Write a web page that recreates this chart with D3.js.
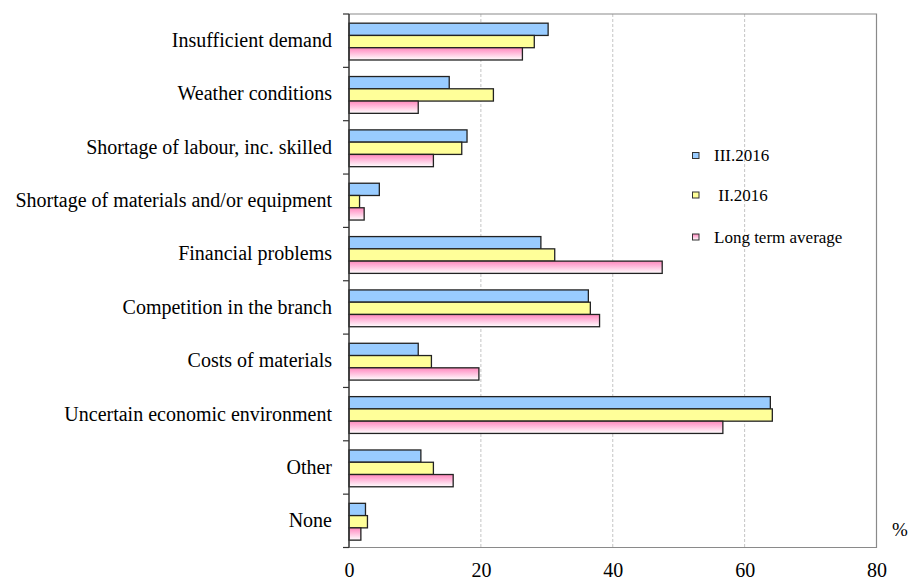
<!DOCTYPE html>
<html>
<head>
<meta charset="utf-8">
<script src="https://cdn.jsdelivr.net/npm/d3@7"></script>
<style>
  html, body { margin: 0; padding: 0; background: #fff; }
  svg { display: block; }
  svg text { font-family: 'Liberation Serif', 'Times New Roman', Times, 'DejaVu Serif', serif !important; fill: #000; }
</style>
</head>
<body>
<svg id="chart" width="910" height="581"></svg>
<script>
// Business barriers, share of answers (%)
const categories = [
  "Insufficient demand",
  "Weather conditions",
  "Shortage of labour, inc. skilled",
  "Shortage of materials and/or equipment",
  "Financial problems",
  "Competition in the branch",
  "Costs of materials",
  "Uncertain economic environment",
  "Other",
  "None"
];
const seriesNames = ["III.2016", " II.2016", "Long term average"];
const valuesIII2016 = [30.2, 15.2, 17.9, 4.6, 29.1, 36.3, 10.5, 63.9, 10.9, 2.5];
const valuesII2016  = [28.1, 21.9, 17.1, 1.6, 31.2, 36.6, 12.5, 64.2, 12.8, 2.8];
const valuesLongAvg = [26.3, 10.5, 12.8, 2.3, 47.5, 38.0, 19.7, 56.7, 15.8, 1.8];
const xTicks = [0, 20, 40, 60, 80];

const seriesValues = [valuesIII2016, valuesII2016, valuesLongAvg];
const seriesFill = ["#99ccff", "#ffff99", "url(#pinkFade)"];

const serif = "'Liberation Serif', 'Times New Roman', Times, serif";
const svg = d3.select("#chart").attr("font-family", serif);
const plot = { left: 349, right: 876.5, top: 14, bottom: 547.5 };

// vertical fade used by the long-term average bars
const defs = svg.append("defs");
const g = defs.append("linearGradient").attr("id", "pinkFade")
  .attr("x1", 0).attr("y1", 0).attr("x2", 0).attr("y2", 1);
g.append("stop").attr("offset", "0%").attr("stop-color", "#ff88bb");
g.append("stop").attr("offset", "30%").attr("stop-color", "#ffaad2");
g.append("stop").attr("offset", "100%").attr("stop-color", "#ffffff");

const x = d3.scaleLinear().domain([0, 80]).range([plot.left, plot.right]);
const y0 = d3.scaleBand().domain(categories).range([plot.top, plot.bottom]).padding(0);
const bw = y0.bandwidth();
const y1 = d3.scaleBand().domain(d3.range(seriesNames.length))
  .range([0.172 * bw, 0.862 * bw]).padding(0);

// dashed vertical gridlines
svg.append("g").selectAll("line")
  .data(xTicks.filter(t => t > 0 && t < 80))
  .join("line")
  .attr("x1", d => x(d)).attr("x2", d => x(d))
  .attr("y1", plot.top).attr("y2", plot.bottom)
  .attr("stroke", "#c4c4c4").attr("stroke-width", 1)
  .attr("stroke-dasharray", "3,2");

// plot frame (top, right, bottom)
svg.append("path")
  .attr("d", `M${plot.left},${plot.top}H${plot.right}V${plot.bottom}H${plot.left}`)
  .attr("fill", "none").attr("stroke", "#8a8a8a").attr("stroke-width", 1.2);

// bars
const groups = svg.append("g").selectAll("g")
  .data(categories)
  .join("g")
  .attr("transform", d => `translate(0,${y0(d)})`);

groups.selectAll("rect")
  .data((d, i) => seriesValues.map((vals, s) => ({ s, v: vals[i] })))
  .join("rect")
  .attr("x", x(0))
  .attr("y", d => y1(d.s))
  .attr("width", d => x(d.v) - x(0))
  .attr("height", y1.bandwidth())
  .attr("fill", d => seriesFill[d.s])
  .attr("stroke", "#222")
  .attr("stroke-width", 1.3);

// category axis
const yAxis = d3.axisLeft(y0).tickSize(0).tickPadding(17);
const ya = svg.append("g").attr("transform", `translate(${plot.left},0)`).call(yAxis)
  .attr("font-family", serif).attr("font-size", 20);
ya.select(".domain").remove();

// category boundary ticks
svg.append("g").selectAll("line")
  .data(d3.range(categories.length + 1))
  .join("line")
  .attr("x1", plot.left - 6).attr("x2", plot.left)
  .attr("y1", i => plot.top + i * bw).attr("y2", i => plot.top + i * bw)
  .attr("stroke", "#333").attr("stroke-width", 1.2);

svg.append("line")
  .attr("x1", plot.left).attr("x2", plot.left)
  .attr("y1", plot.top).attr("y2", plot.bottom)
  .attr("stroke", "#333").attr("stroke-width", 1.5);

// value axis labels
const xAxis = d3.axisBottom(x).tickValues(xTicks).tickSize(0).tickPadding(15);
const xa = svg.append("g").attr("transform", `translate(0,${plot.bottom})`).call(xAxis)
  .attr("font-family", serif).attr("font-size", 20);
xa.select(".domain").remove();

svg.append("text")
  .attr("x", 892).attr("y", 536)
  .attr("font-size", 19)
  .text("%");

// legend
const legendY = [155.5, 195, 237];
const lg = svg.append("g").selectAll("g")
  .data(seriesNames)
  .join("g")
  .attr("transform", (d, i) => `translate(692,${legendY[i]})`);
lg.append("rect")
  .attr("x", 0.5).attr("y", -3).attr("width", 6.5).attr("height", 6)
  .attr("fill", (d, i) => seriesFill[i])
  .attr("stroke", "#333").attr("stroke-width", 1);
lg.append("text")
  .attr("x", 22).attr("y", 0).attr("dy", "0.33em")
  .attr("font-size", 17)
  .attr("xml:space", "preserve")
  .style("white-space", "pre")
  .text(d => d);
</script>
</body>
</html>
